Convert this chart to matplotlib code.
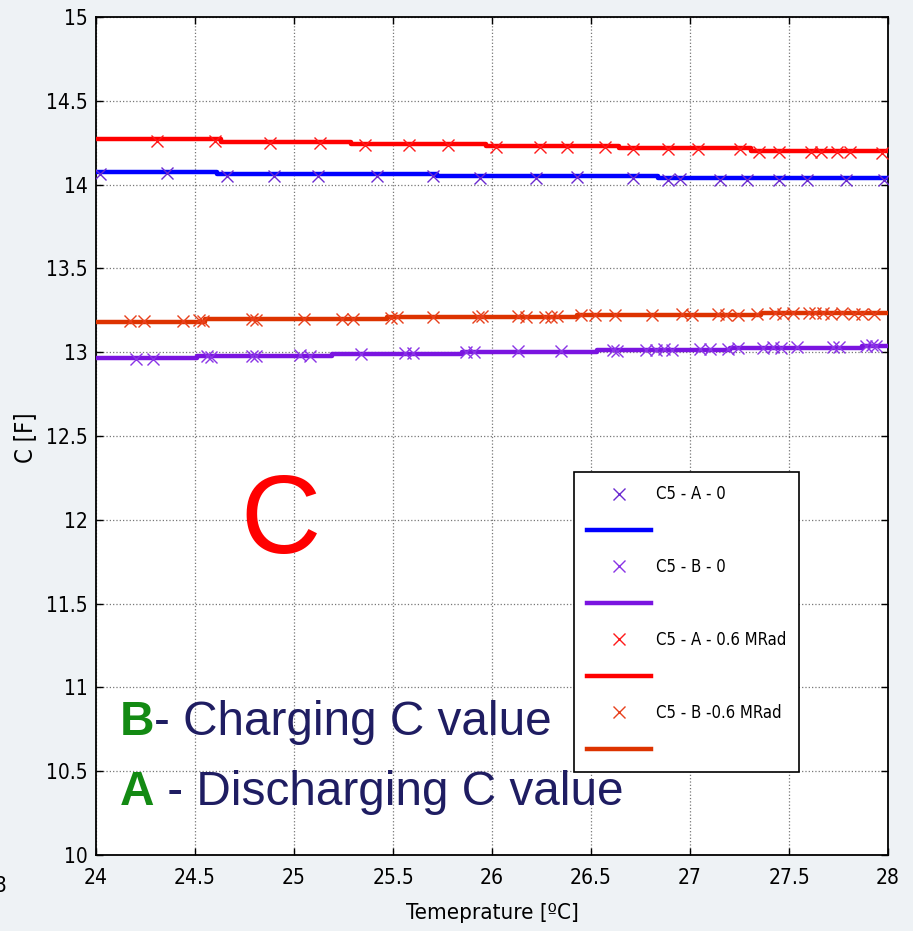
import matplotlib.pyplot as plt

plt.rcParams['font.family'] = ['Liberation Sans', 'DejaVu Sans']

# step fits (temperature breakpoints, capacitance per step)
a0_steps_t = [24, 24.61, 25.72, 26.84, 28]
a0_steps_c = [14.076, 14.062, 14.050, 14.038]
b0_steps_t = [24, 24.51, 25.19, 25.85, 26.53, 27.20, 27.87, 28]
b0_steps_c = [12.964, 12.978, 12.990, 13.004, 13.014, 13.023, 13.039]
a6_steps_t = [24, 24.63, 25.29, 25.97, 26.64, 27.31, 28]
a6_steps_c = [14.270, 14.257, 14.243, 14.230, 14.217, 14.203]
b6_steps_t = [24, 24.55, 25.47, 26.43, 27.36, 28]
b6_steps_c = [13.183, 13.196, 13.208, 13.222, 13.234]

# measured points
a0_t = [24.02, 24.36, 24.66, 24.90, 25.12, 25.42, 25.70, 25.94, 26.22, 26.43,
        26.71, 26.89, 26.95, 27.15, 27.29, 27.45, 27.59, 27.79, 27.98]
a0_c = [14.066, 14.068, 14.052, 14.053, 14.052, 14.053, 14.050, 14.042, 14.042, 14.043,
        14.042, 14.030, 14.031, 14.030, 14.029, 14.028, 14.029, 14.029, 14.027]
b0_t = [24.20, 24.29, 24.56, 24.58, 24.79, 24.81, 25.03, 25.08, 25.34, 25.56,
        25.60, 25.87, 25.91, 26.13, 26.35, 26.61, 26.63, 26.78, 26.83, 26.87,
        26.91, 27.05, 27.10, 27.19, 27.24, 27.37, 27.42, 27.46, 27.54, 27.72,
        27.75, 27.89, 27.92, 27.94]
b0_c = [12.962, 12.962, 12.976, 12.972, 12.978, 12.976, 12.982, 12.980, 12.990, 12.996,
        12.994, 13.000, 13.004, 13.006, 13.008, 13.012, 13.010, 13.016, 13.014, 13.018,
        13.016, 13.020, 13.022, 13.022, 13.026, 13.028, 13.030, 13.028, 13.030, 13.032,
        13.030, 13.038, 13.040, 13.036]
a6_t = [24.31, 24.60, 24.88, 25.13, 25.36, 25.58, 25.78, 26.02, 26.24, 26.38,
        26.57, 26.71, 26.89, 27.04, 27.25, 27.35, 27.45, 27.61, 27.66, 27.74,
        27.81, 27.97]
a6_c = [14.262, 14.262, 14.250, 14.250, 14.238, 14.234, 14.235, 14.224, 14.224, 14.223,
        14.222, 14.210, 14.211, 14.210, 14.210, 14.196, 14.195, 14.196, 14.195, 14.196,
        14.195, 14.186]
b6_t = [24.17, 24.24, 24.44, 24.52, 24.54, 24.79, 24.81, 25.05, 25.24, 25.30,
        25.49, 25.52, 25.70, 25.93, 25.95, 26.13, 26.17, 26.27, 26.30, 26.33,
        26.45, 26.52, 26.62, 26.81, 26.96, 27.01, 27.14, 27.18, 27.24, 27.34,
        27.43, 27.47, 27.52, 27.60, 27.63, 27.67, 27.71, 27.77, 27.83, 27.87, 27.93]
b6_c = [13.186, 13.188, 13.186, 13.190, 13.184, 13.196, 13.192, 13.198, 13.200, 13.198,
        13.204, 13.210, 13.208, 13.212, 13.214, 13.214, 13.212, 13.210, 13.212, 13.214,
        13.220, 13.222, 13.222, 13.224, 13.226, 13.224, 13.226, 13.224, 13.222, 13.228,
        13.232, 13.230, 13.234, 13.232, 13.234, 13.232, 13.230, 13.232, 13.228, 13.230, 13.226]

labels = ['C5 - A - 0', 'C5 - B - 0', 'C5 - A - 0.6 MRad', 'C5 - B -0.6 MRad']
line_colors = ['#0000ff', '#7a14e0', '#ff0000', '#dd3300']
marker_colors = ['#6a2ad0', '#8a34e6', '#ff1a1a', '#e8401c']

x_ticks = [24, 24.5, 25, 25.5, 26, 26.5, 27, 27.5, 28]
y_ticks = [10, 10.5, 11, 11.5, 12, 12.5, 13, 13.5, 14, 14.5, 15]

# narrow face for the axis text
narrow = dict(family='DejaVu Sans', stretch='condensed')

fig = plt.figure(figsize=(9.13, 9.31), dpi=100, facecolor='#eef2f5')
ax = fig.add_axes([96 / 913, 76 / 931, 792 / 913, 838 / 931])
ax.set_facecolor('white')

series = [(a0_t, a0_c, a0_steps_t, a0_steps_c),
          (b0_t, b0_c, b0_steps_t, b0_steps_c),
          (a6_t, a6_c, a6_steps_t, a6_steps_c),
          (b6_t, b6_c, b6_steps_t, b6_steps_c)]

handles = []
legend_labels = []
for (t, c, st, sc), lab, lc, mc in zip(series, labels, line_colors, marker_colors):
    m, = ax.plot(t, c, linestyle='none', marker='x', markersize=8.5,
                 markeredgewidth=1.0, color=mc, zorder=4)
    ln, = ax.step(st, sc + [sc[-1]], where='post', color=lc, lw=3.2, zorder=3)
    handles += [m, ln]
    legend_labels += [lab, '']

ax.set_xlim(24, 28)
ax.set_ylim(10, 15)
ax.set_xticks(x_ticks)
ax.set_xticklabels([f'{v:g}' for v in x_ticks], fontsize=15, **narrow)
ax.set_yticks(y_ticks)
ax.set_yticklabels([f'{v:g}' for v in y_ticks], fontsize=15, **narrow)
ax.grid(True, linestyle=':', color='#777777', lw=0.9)
ax.tick_params(direction='in', length=5, width=1, top=True, right=True,
               pad=9, colors='black')
ax.tick_params(axis='y', pad=6)
for s in ax.spines.values():
    s.set_linewidth(1.3)

ax.set_xlabel('Temeprature [ºC]', fontsize=16, labelpad=11, **narrow)
fig.text(25 / 913, 1 - 438 / 931, 'C [F]', rotation=90, fontsize=17,
         ha='center', va='center', **narrow)

leg = ax.legend(handles, legend_labels, loc='upper left',
                bbox_to_anchor=((574 - 96) / 792, (855 - 472) / 838),
                handlelength=3.8, handletextpad=0.3,
                labelspacing=1.11, borderpad=0.8, borderaxespad=0,
                fancybox=False, framealpha=1, edgecolor='black',
                prop=dict(size=12, **narrow))
leg.get_frame().set_linewidth(1.2)

# slide annotations
fig.text(240 / 913, 1 - 553 / 931, 'C', fontsize=80, color='#ff0000', va='baseline')
b_txt = fig.text(120 / 913, 1 - 735 / 931, 'B', fontsize=34.4, color='#138a13',
                 fontweight='bold', va='baseline')
a_txt = fig.text(120 / 913, 1 - 805 / 931, 'A', fontsize=34.4, color='#138a13',
                 fontweight='bold', va='baseline')
ax.annotate('- Charging C value', xy=(1, 0), xycoords=b_txt, va='bottom',
            fontsize=34.4, color='#1f1d62', annotation_clip=False)
ax.annotate(' - Discharging C value', xy=(1, 0), xycoords=a_txt, va='bottom',
            fontsize=34.4, color='#1f1d62', annotation_clip=False)

fig.text(-6 / 913, 1 - 892 / 931, '8', fontsize=16, va='baseline', **narrow)

fig.savefig('out.png', dpi=100, facecolor=fig.get_facecolor())
